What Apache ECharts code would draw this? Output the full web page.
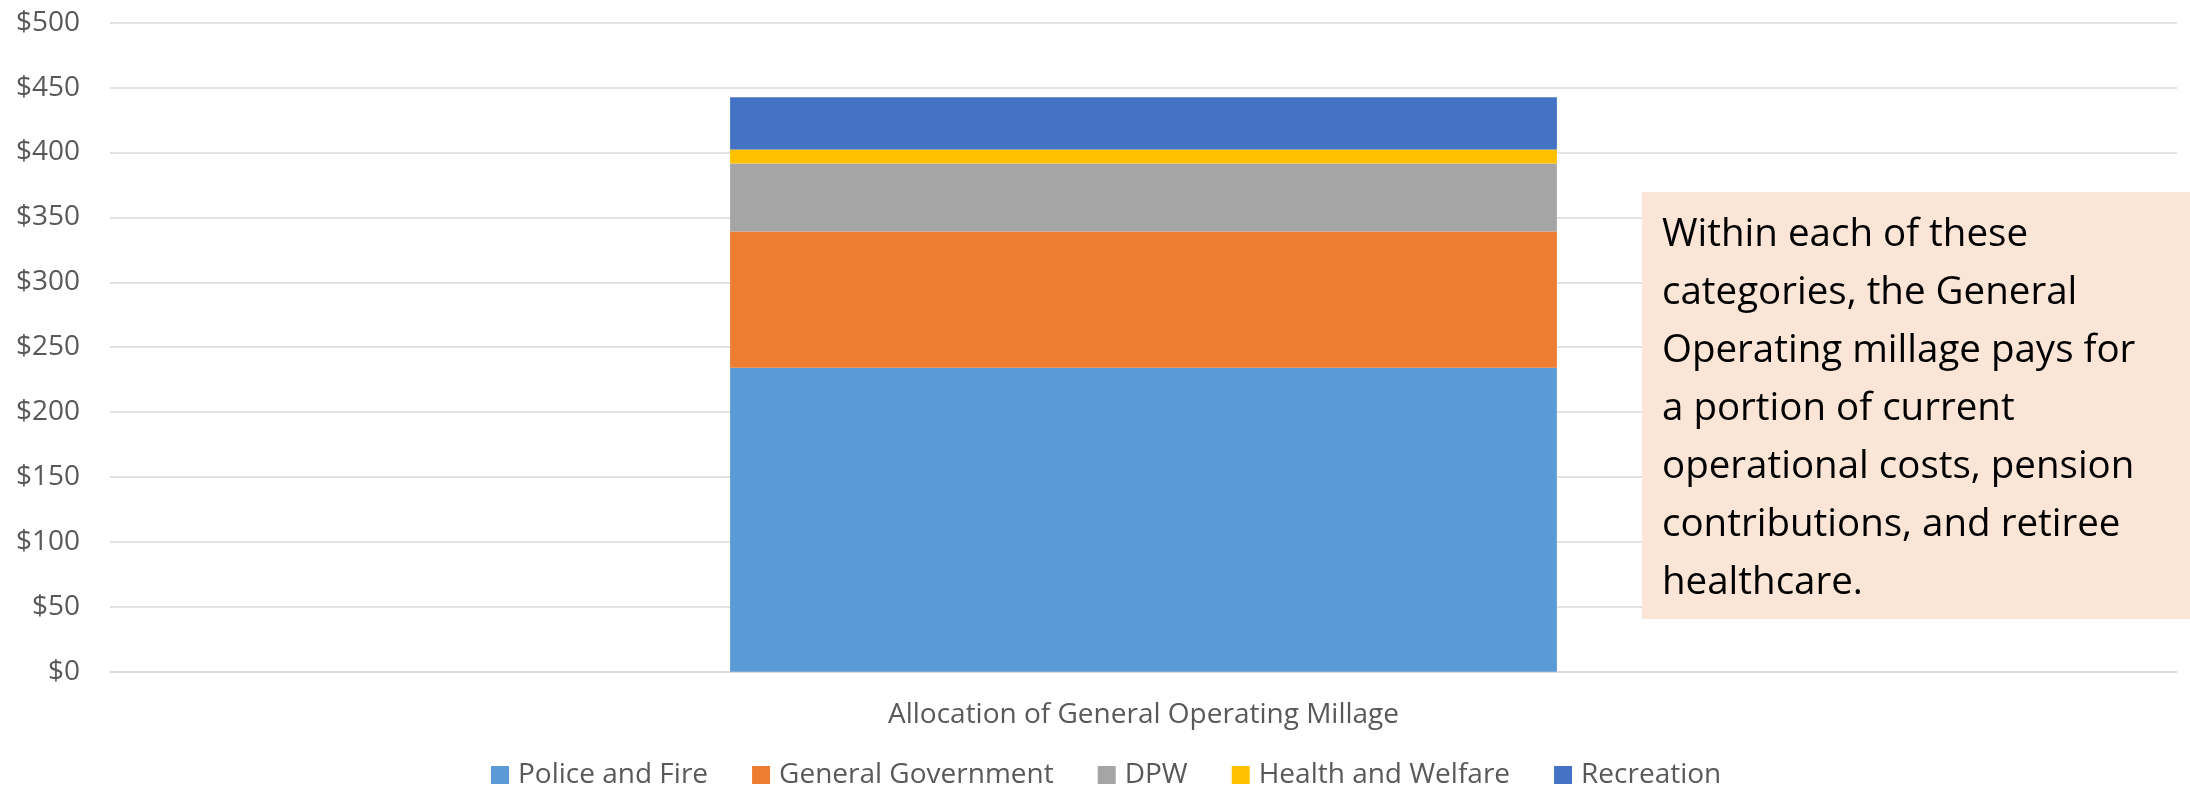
<!DOCTYPE html>
<html>
<head>
<meta charset="utf-8">
<script src="https://cdn.jsdelivr.net/npm/echarts@6/dist/echarts.min.js"></script>
<style>
html,body{margin:0;padding:0;background:#fff;}
#chart{width:2190px;height:791px;}
</style>
</head>
<body>
<div id="chart"></div>
<script>
const categories = ['Allocation of General Operating Millage'];
const seriesNames = ['Police and Fire', 'General Government', 'DPW', 'Health and Welfare', 'Recreation'];
const policeFire = [234.2];
const generalGovernment = [104.9];
const dpw = [52.5];
const healthWelfare = [10.8];
const recreation = [40.1];
const yTicks = [0, 50, 100, 150, 200, 250, 300, 350, 400, 450, 500];
const noteText = 'Within each of these\ncategories, the General\nOperating millage pays for\na portion of current\noperational costs, pension\ncontributions, and retiree\nhealthcare.';

const colors = ['#5B9BD5', '#ED7D31', '#A5A5A5', '#FFC000', '#4472C4'];
const values = [policeFire, generalGovernment, dpw, healthWelfare, recreation];
const FONT = '"Open Sans", "Noto Sans", sans-serif';

const chart = echarts.init(document.getElementById('chart'), null, {renderer: 'canvas'});
chart.setOption({
  animation: false,
  backgroundColor: '#ffffff',
  color: colors,
  grid: {left: 110, right: 13, top: 22.7, bottom: 119.3, containLabel: false},
  legend: {
    data: seriesNames,
    left: 491,
    top: 761,
    padding: 0,
    itemWidth: 18,
    itemHeight: 18,
    itemGap: 44,
    icon: 'rect',
    textStyle: {color: '#595959', fontSize: 28, fontFamily: FONT, padding: [0, 0, 0, 4]}
  },
  xAxis: {
    type: 'category',
    data: categories,
    axisLine: {lineStyle: {color: '#D9D9D9', width: 1.5}},
    axisTick: {show: false},
    axisLabel: {color: '#595959', fontSize: 28, fontFamily: FONT, margin: 29}
  },
  yAxis: {
    type: 'value',
    min: yTicks[0],
    max: yTicks[yTicks.length - 1],
    interval: 50,
    axisLine: {show: false},
    axisTick: {show: false},
    splitLine: {lineStyle: {color: '#D9D9D9', width: 1.5}},
    axisLabel: {color: '#595959', fontSize: 28, fontFamily: FONT, margin: 30, formatter: v => '$' + v}
  },
  series: seriesNames.map((name, i) => ({
    name: name,
    type: 'bar',
    stack: 'total',
    barCategoryGap: '60%',
    data: values[i],
    itemStyle: {color: colors[i]}
  })),
  graphic: [
    {
      type: 'rect',
      z: 100,
      shape: {x: 1642, y: 192, width: 548, height: 427},
      style: {fill: '#FBE5D6'}
    },
    {
      type: 'text',
      z: 101,
      x: 1662,
      y: 206,
      style: {
        text: noteText,
        fill: '#000000',
        font: '38.5px ' + FONT,
        lineHeight: 58,
        textVerticalAlign: 'top'
      }
    }
  ]
});
</script>
</body>
</html>
